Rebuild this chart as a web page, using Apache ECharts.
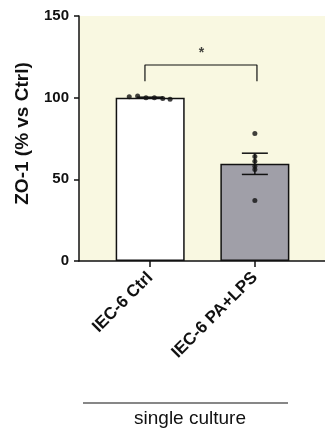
<!DOCTYPE html>
<html><head><meta charset="utf-8">
<script src="https://cdn.jsdelivr.net/npm/echarts@6/dist/echarts.min.js"></script>
<style>html,body{margin:0;padding:0;background:#fff}#c{width:325px;height:435px}</style>
</head><body><div id="c"></div>
<script>
// ---- data ----
const categories = ['IEC-6 Ctrl', 'IEC-6 PA+LPS'];
const means = [100, 59.5];
const sems = [0.3, 6.5];
const ctrlPoints = [100.5, 101, 100, 100, 99.5, 99];
const ctrlJitter = [-0.2, -0.12, -0.04, 0.04, 0.12, 0.19];
const lpsPoints = [78, 64, 61, 58, 56, 37];
const lpsJitter = [0, 0, 0, 0, 0, 0];
const yTicks = [0, 50, 100, 150];
const bracketY = [110, 120];
const sigLabel = '*';
const groupLabel = 'single culture';

const barData = means.map((m, i) => [i, m]);
const errData = means.map((m, i) => [i, m - sems[i], m + sems[i]]);
const dots = ctrlPoints.map((v, i) => [ctrlJitter[i], v])
  .concat(lpsPoints.map((v, i) => [1 + lpsJitter[i], v]));
const bracket = [[-0.05, bracketY[0]], [-0.05, bracketY[1]], [1.02, bracketY[1]], [1.02, bracketY[0]]];

const chart = echarts.init(document.getElementById('c'), null, {renderer: 'canvas'});
const FONT = 'Liberation Sans, Arial, sans-serif';
chart.setOption({
  backgroundColor: '#ffffff',
  animation: false,
  grid: {left: 79, right: 0, top: 16, bottom: 174, containLabel: false,
         show: true, backgroundColor: '#f9f8e1', borderWidth: 0},
  xAxis: {
    type: 'value', min: -0.68, max: 1.67,
    splitLine: {show: false},
    axisLine: {show: true, onZero: false, lineStyle: {color: '#111', width: 1.5}},
    axisTick: {show: true, length: 6, customValues: [0, 1], lineStyle: {color: '#111', width: 1.5}},
    axisLabel: {customValues: [0, 1], rotate: 45, margin: 14,
      formatter: v => categories[Math.round(v)] || '',
      fontFamily: FONT, fontWeight: 'bold', fontSize: 17, color: '#111'}
  },
  yAxis: {
    type: 'value', min: 0, max: 150, interval: 50,
    splitLine: {show: false},
    axisLine: {show: true, onZero: false, lineStyle: {color: '#111', width: 1.5}},
    axisTick: {show: true, length: 5, lineStyle: {color: '#111', width: 1.5}},
    axisLabel: {fontFamily: FONT, fontWeight: 'bold', fontSize: 15, color: '#111', margin: 10},
    name: 'ZO-1 (% vs Ctrl)', nameLocation: 'middle', nameGap: 47,
    nameTextStyle: {fontFamily: FONT, fontWeight: 'bold', fontSize: 19, color: '#111', padding: [0, 0, 0, 10]}
  },
  series: [
    {type: 'bar', data: barData, barWidth: 69,
     itemStyle: {color: p => p.dataIndex === 0 ? '#ffffff' : '#a09fa8', borderColor: '#111', borderWidth: 1.5}},
    {type: 'custom', data: errData, z: 3,
     renderItem: function (params, api) {
       const x = api.value(0);
       const top = api.coord([x, api.value(2)]);
       const bot = api.coord([x, api.value(1)]);
       const hw = 13;
       const st = {stroke: '#111', lineWidth: 1.5};
       return {type: 'group', children: [
         {type: 'line', shape: {x1: top[0], y1: top[1], x2: bot[0], y2: bot[1]}, style: st},
         {type: 'line', shape: {x1: top[0] - hw, y1: top[1], x2: top[0] + hw, y2: top[1]}, style: st},
         {type: 'line', shape: {x1: bot[0] - hw, y1: bot[1], x2: bot[0] + hw, y2: bot[1]}, style: st}
       ]};
     }},
    {type: 'scatter', data: dots, symbol: 'circle', symbolSize: 5, z: 4,
     itemStyle: {color: '#111'}},
    {type: 'line', data: bracket, symbol: 'none', z: 3,
     lineStyle: {color: '#111', width: 1.2}},
    {type: 'scatter', data: [[0.49, 127]], symbolSize: 0, z: 4,
     label: {show: true, formatter: sigLabel, position: 'inside', fontFamily: FONT, fontWeight: 'bold', fontSize: 14, color: '#111'}}
  ],
  graphic: [
    {type: 'line', shape: {x1: 83, y1: 403, x2: 288, y2: 403}, style: {stroke: '#111', lineWidth: 1.2}},
    {type: 'text', x: 190, y: 419, style: {text: groupLabel, fontFamily: FONT, fontSize: 19, fill: '#111',
      align: 'center', verticalAlign: 'middle'}}
  ]
});
</script></body></html>
